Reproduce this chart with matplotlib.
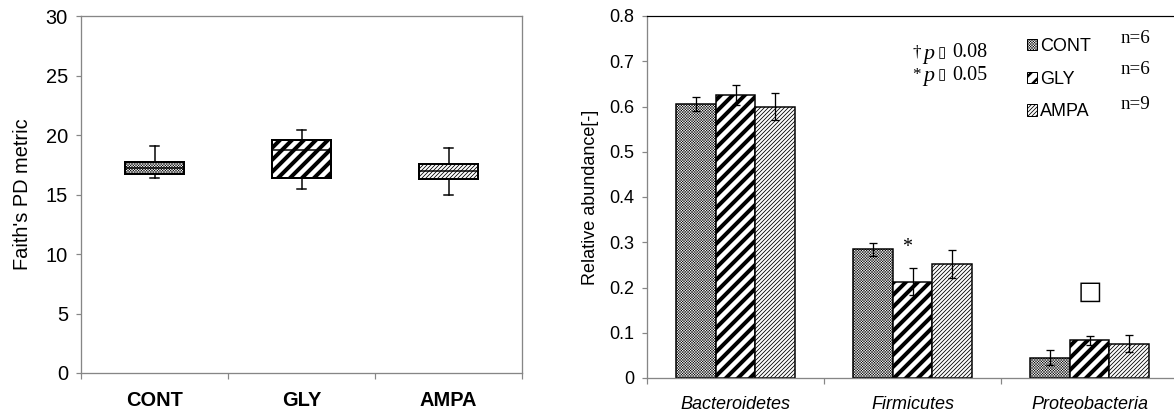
import matplotlib
matplotlib.use("Agg")
import matplotlib.pyplot as plt
from matplotlib.patches import Patch

# left panel: Faith's PD box plot
box_groups = ["CONT", "GLY", "AMPA"]
box_q1 = [16.7, 16.4, 16.3]
box_med = [17.2, 18.7, 17.0]
box_q3 = [17.7, 19.6, 17.6]
box_lo = [16.35, 15.5, 15.0]
box_hi = [19.05, 20.4, 18.9]

# right panel: relative abundance bars
phyla = ["Bacteroidetes", "Firmicutes", "Proteobacteria"]
cont_mean = [0.605, 0.284, 0.045]
cont_err = [0.016, 0.014, 0.016]
gly_mean = [0.625, 0.213, 0.083]
gly_err = [0.022, 0.030, 0.010]
ampa_mean = [0.600, 0.252, 0.076]
ampa_err = [0.030, 0.030, 0.018]
n_labels = ["n=6", "n=6", "n=9"]

GRAY = "#868686"
HATCHES = ["x" * 9, "//", "/" * 6]
HATCH_LW = [0.45, 4.0, 0.8]
SANS = "Liberation Sans"
SERIF = "Liberation Serif"

W, H, DPI = 1174, 418, 72
fig = plt.figure(figsize=(W / DPI, H / DPI), dpi=DPI)
plt.rcParams["font.family"] = SANS

# ---------------- left panel ----------------
ax1 = fig.add_axes([81 / W, 1 - 373 / H, (522 - 81) / W, (373 - 16) / H])
stats = [
    {"label": g, "q1": a, "med": m, "q3": b, "whislo": lo, "whishi": hi, "fliers": []}
    for g, a, m, b, lo, hi in zip(box_groups, box_q1, box_med, box_q3, box_lo, box_hi)
]
res = ax1.bxp(stats, positions=range(3), widths=0.40, patch_artist=True, showfliers=False,
              boxprops=dict(facecolor="white", edgecolor="black", linewidth=2),
              medianprops=dict(color="black", linewidth=1.5),
              whiskerprops=dict(color="black", linewidth=1.5),
              capprops=dict(color="black", linewidth=1.5), capwidths=0.06)
for patch, h, lw in zip(res["boxes"], HATCHES, HATCH_LW):
    patch.set_hatch(h)
    patch.set_hatch_linewidth(lw)
ax1.set_xlim(-0.5, 2.5)
ax1.set_ylim(0, 30)
ax1.set_yticks(range(0, 31, 5))
ax1.set_xticks(range(3), box_groups, fontweight="bold", fontsize=20)
ax1.set_xticks([-0.5, 0.5, 1.5, 2.5], minor=True)
ax1.tick_params(axis="x", which="major", length=0, pad=18)
ax1.tick_params(axis="x", which="minor", length=6, color=GRAY, width=1.2)
ax1.tick_params(axis="y", labelsize=20, length=5, color=GRAY, width=1.2, pad=8)
ax1.set_ylabel("Faith's PD metric", fontsize=20, labelpad=14)
for s in ax1.spines.values():
    s.set_color(GRAY)
    s.set_linewidth(1.3)

# ---------------- right panel ----------------
ax2 = fig.add_axes([647 / W, 1 - 378 / H, (1178 - 647) / W, (378 - 16) / H])
width = 0.223
series = [("CONT", cont_mean, cont_err), ("GLY", gly_mean, gly_err), ("AMPA", ampa_mean, ampa_err)]
handles = []
for i, (name, mean, err) in enumerate(series):
    xs = [k + (i - 1) * width for k in range(len(phyla))]
    bars = ax2.bar(xs, mean, width, yerr=err, color="white", edgecolor="black", linewidth=1.5,
                   hatch=HATCHES[i], capsize=4, error_kw=dict(elinewidth=1.3, capthick=1.3, ecolor="black"))
    for b in bars:
        b.set_hatch_linewidth(HATCH_LW[i])
    handles.append(Patch(facecolor="white", edgecolor="black", hatch=HATCHES[i], label=name))

ax2.set_xlim(-0.5, 2.5)
ax2.set_ylim(0, 0.8)
ax2.set_yticks([0, 0.1, 0.2, 0.3, 0.4, 0.5, 0.6, 0.7, 0.8],
               ["0", "0.1", "0.2", "0.3", "0.4", "0.5", "0.6", "0.7", "0.8"])
ax2.set_xticks(range(3), phyla, fontstyle="italic", fontsize=18)
ax2.set_xticks([-0.5, 0.5, 1.5, 2.5], minor=True)
ax2.tick_params(axis="x", which="major", length=0, pad=18)
ax2.tick_params(axis="x", which="minor", length=6, color=GRAY, width=1.2)
ax2.tick_params(axis="y", labelsize=18, length=5, color=GRAY, width=1.2, pad=8)
ax2.set_ylabel("Relative abundance[-]", fontsize=18, labelpad=10)
for k in ("left", "bottom"):
    ax2.spines[k].set_color(GRAY)
    ax2.spines[k].set_linewidth(1.3)
ax2.spines["top"].set_color("black")
ax2.spines["top"].set_linewidth(1.2)
ax2.spines["right"].set_visible(False)

leg = ax2.legend(handles=handles, loc="upper left", bbox_to_anchor=(0.715, 0.94), frameon=False,
                 fontsize=18, handlelength=0.6, handleheight=0.6, handletextpad=0.15,
                 labelspacing=0.88, borderaxespad=0, borderpad=0)
for p, lw in zip(leg.get_patches(), HATCH_LW):
    p.set_hatch_linewidth(min(lw, 2.5))

n_y = [0.938, 0.852, 0.756]
for lab, yy in zip(n_labels, n_y):
    ax2.text(0.892, yy, lab, transform=ax2.transAxes, fontsize=19, family=SERIF, ha="left", va="center")

for yy, sym, val in ((0.898, "\u2020", "0.08"), (0.837, "*", "0.05")):
    ax2.text(0.500, yy, sym, transform=ax2.transAxes, fontsize=17, family=SERIF, ha="left", va="center")
    ax2.text(0.520, yy - 0.005, "p", transform=ax2.transAxes, fontsize=22, family=SERIF,
             style="italic", ha="left", va="center")
    ax2.text(0.547, yy, "\u25af", transform=ax2.transAxes, fontsize=15, family="DejaVu Sans",
             ha="left", va="center")
    ax2.text(0.574, yy, val, transform=ax2.transAxes, fontsize=20, family=SERIF, ha="left", va="center")

# significance marks
ax2.text(0.97, gly_mean[1] + gly_err[1] + 0.045, "*", fontsize=20, family=SERIF, ha="center", va="center")
ax2.text(2.0, gly_mean[2] + gly_err[2] + 0.097, "\u25a1", fontsize=26, family="DejaVu Sans",
         ha="center", va="center")

fig.savefig("out.png", dpi=DPI)
